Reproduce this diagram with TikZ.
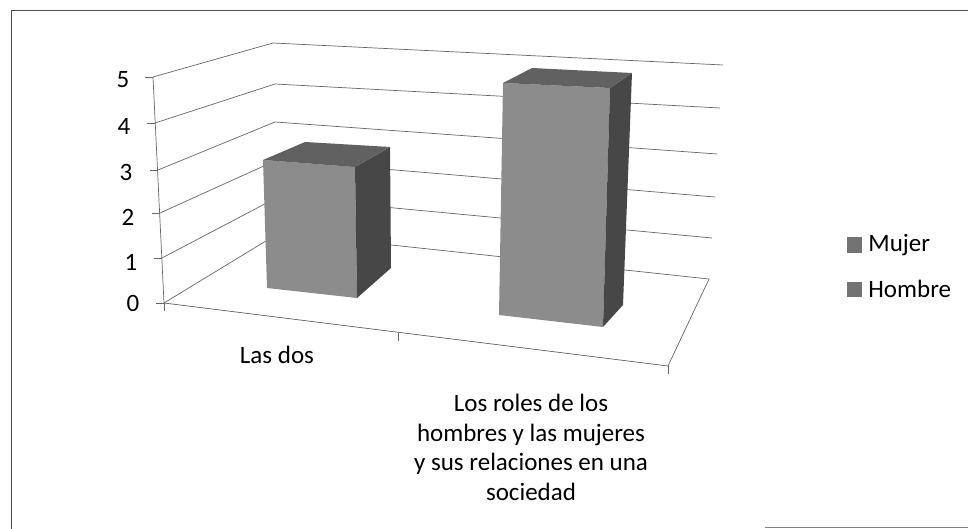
\documentclass[tikz,border=0pt]{standalone}
\usepackage{fontspec}
\setmainfont{Carlito}
\usetikzlibrary{positioning}

\begin{document}
\begin{tikzpicture}[x=1pt, y=-1pt,
    grid/.style={black!60, line width=0.7pt},
    frontface/.style={fill=black!45},
    sideface/.style={fill=black!72},
    topface/.style={fill=black!62},
    keybox/.style={fill=black!55, minimum size=15pt, inner sep=0pt},
    lbl/.style={inner sep=0pt, font=\fontsize{25}{29.5}\selectfont}]
    \useasboundingbox (0,0) rectangle (968,529);

    % Frame of the chart (scanned, only partly visible)
    \draw[black!70, line width=0.8pt] (968,10) -- (11,10) -- (11,529);
    \draw[black!50, line width=0.6pt] (765,527) -- (968,527);

    % Corners of the walls and the floor
    \coordinate (a0) at (164,303); \coordinate (b0) at (279,233); \coordinate (c0) at (709,279);
    \coordinate (a1) at (162,258); \coordinate (b1) at (278,197); \coordinate (c1) at (712,238);
    \coordinate (a2) at (160,213); \coordinate (b2) at (277,160); \coordinate (c2) at (715,197);
    \coordinate (a3) at (158,170); \coordinate (b3) at (275,122); \coordinate (c3) at (717,154);
    \coordinate (a4) at (155,123); \coordinate (b4) at (275,84);  \coordinate (c4) at (720,108);
    \coordinate (a5) at (153,77);  \coordinate (b5) at (273,43);  \coordinate (c5) at (723,65);
    \coordinate (fr) at (668,366);
    \coordinate (fm) at (398,333);

    % Gridlines on the left and back walls
    \draw[grid] (a0) -- (b0) -- (c0);
    \draw[grid] (a1) -- (b1) -- (c1);
    \draw[grid] (a2) -- (b2) -- (c2);
    \draw[grid] (a3) -- (b3) -- (c3);
    \draw[grid] (a4) -- (b4) -- (c4);
    \draw[grid] (a5) -- (b5) -- (c5);

    % Floor and value axis
    \draw[grid] (a0) -- (fr) -- (c0);
    \draw[grid] (a5) -- (a0);
    \draw[grid] (a0) -- ++(0,8);
    \draw[grid] (fm) -- ++(0,8);
    \draw[grid] (fr) -- ++(0,8);
    \draw[grid] (a0) -- ++(-8,0);
    \draw[grid] (a1) -- ++(-8,0);
    \draw[grid] (a2) -- ++(-8,0);
    \draw[grid] (a3) -- ++(-8,0);
    \draw[grid] (a4) -- ++(-8,0);
    \draw[grid] (a5) -- ++(-8,0);

    % Bar for "Las dos"
    \fill[frontface] (263,160) -- (355,167) -- (357,298) -- (267,288) -- cycle;
    \fill[sideface] (355,167) -- (390,147) -- (391,268) -- (357,298) -- cycle;
    \fill[topface] (263,160) -- (305,142) -- (390,147) -- (355,167) -- cycle;

    % Bar for "Los roles ..."
    \fill[frontface] (503,83) -- (610,88) -- (603,327) -- (499,315) -- cycle;
    \fill[sideface] (610,88) -- (632,73) -- (623,305) -- (603,327) -- cycle;
    \fill[topface] (503,83) -- (532,68) -- (632,73) -- (610,88) -- cycle;

    % Axis labels
    \node[lbl] (v0) at (133,303) {0};
    \node[lbl] (v1) at (131,262) {1};
    \node[lbl] (v2) at (128,217) {2};
    \node[lbl] (v3) at (126,172) {3};
    \node[lbl] (v4) at (124,126) {4};
    \node[lbl] (v5) at (123,80) {5};

    % Category labels
    \node[lbl, anchor=base] (catA) at (277,363) {Las dos};
    \node[lbl, anchor=north, align=center] (catB) at (531,394)
        {Los roles de los\\hombres y las mujeres\\y sus relaciones en una\\sociedad};

    % Legend
    \node[keybox] (keyM) at (854.5,245) {};
    \node[keybox] (keyH) at (854.5,289) {};
    \node[lbl, right=6pt of keyM] (txtM) {Mujer};
    \node[lbl, right=6pt of keyH] (txtH) {Hombre};
\end{tikzpicture}
\end{document}
